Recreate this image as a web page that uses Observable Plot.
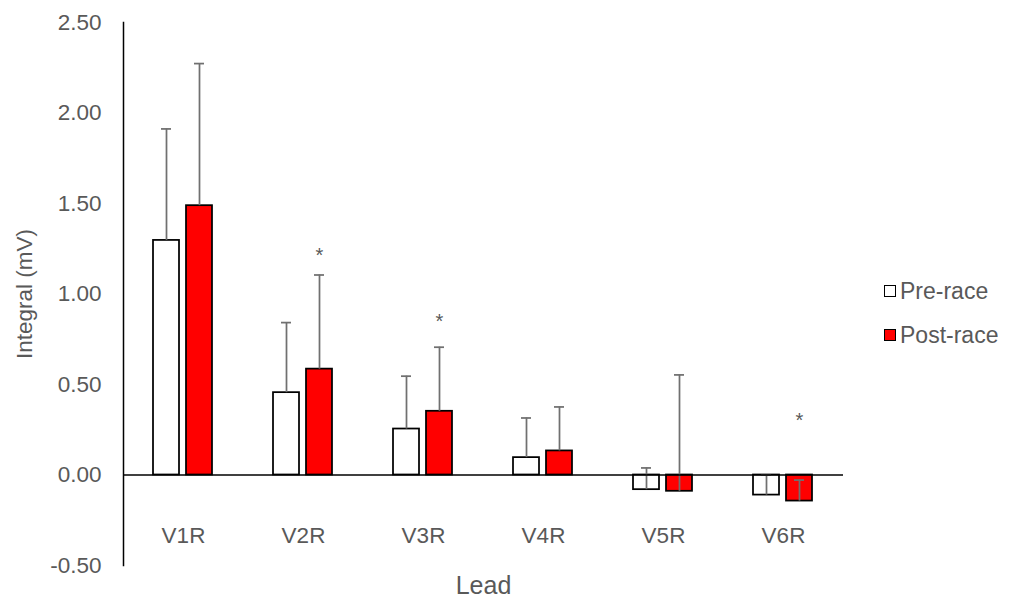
<!DOCTYPE html>
<html>
<head>
<meta charset="utf-8">
<script src="https://cdn.jsdelivr.net/npm/d3@7"></script>
<script src="https://cdn.jsdelivr.net/npm/@observablehq/plot@0.6"></script>
<style>
  html, body { margin: 0; padding: 0; background: #fff; }
  #wrap { position: relative; width: 1014px; height: 602px; font-family: "Liberation Sans", Arial, sans-serif; }
  #legend { position: absolute; left: 884px; top: 269px; color: #595959; font-size: 23px; }
  .item { display: flex; align-items: center; height: 44px; }
  .sw { width: 10px; height: 10px; border: 1.5px solid #000; margin-right: 4px; }
</style>
</head>
<body>
<div id="wrap"><div id="legend"></div></div>
<script>
const leads = ["V1R", "V2R", "V3R", "V4R", "V5R", "V6R"];
const seriesNames = ["Pre-race", "Post-race"];
const seriesColors = ["#ffffff", "#ff0000"];
const preMean = [1.296, 0.455, 0.254, 0.096, -0.081, -0.111];
const preErr = [0.616, 0.387, 0.292, 0.219, 0.120, 0.111];
const postMean = [1.488, 0.585, 0.352, 0.133, -0.090, -0.144];
const postErr = [0.785, 0.520, 0.354, 0.243, 0.643, 0.116];
const sigLeads = ["V2R", "V3R", "V6R"];
const sigY = [1.21, 0.85, 0.30];
const yTicks = [-0.5, 0, 0.5, 1, 1.5, 2, 2.5];

const rows = leads.flatMap((lead, i) => [
  {lead, series: seriesNames[0], value: preMean[i], top: preMean[i] + preErr[i]},
  {lead, series: seriesNames[1], value: postMean[i], top: postMean[i] + postErr[i]}
]);
const stars = sigLeads.map((lead, i) => ({lead, series: seriesNames[1], y: sigY[i]}));

const gray = "#595959";
const chart = Plot.plot({
  width: 1014,
  height: 602,
  marginLeft: 123,
  marginRight: 171,
  marginTop: 22,
  marginBottom: 37,
  style: {fontFamily: "'Liberation Sans', Arial, sans-serif", background: "white"},
  fx: {domain: leads, paddingInner: 0, paddingOuter: 0},
  x: {domain: seriesNames, paddingInner: 0.206, paddingOuter: 0.868, axis: null},
  y: {domain: [-0.5, 2.5], axis: null},
  color: {domain: seriesNames, range: seriesColors},
  marks: [
    Plot.barY(rows, {fx: "lead", x: "series", y: "value", fill: "series", stroke: "#000", strokeWidth: 1.75}),
    Plot.ruleX(rows, {fx: "lead", x: "series", y1: "value", y2: "top", stroke: "#707070", strokeWidth: 1.75}),
    Plot.tickY(rows, {fx: "lead", x: "series", y: "top", stroke: "#707070", strokeWidth: 1.75, insetLeft: 8, insetRight: 8}),
    Plot.ruleY([0], {stroke: "#000", strokeWidth: 1.5}),
    Plot.frame({anchor: "left", facetAnchor: "left", stroke: "#000", strokeWidth: 1.5}),
    Plot.text(stars, {fx: "lead", x: "series", y: "y", text: () => "*", fill: gray, fontSize: 20}),
    Plot.axisY({
      ticks: yTicks, tickFormat: d => d.toFixed(2), tickSize: 0, tickPadding: 22,
      fontSize: 22.5, color: gray,
      label: "Integral (mV)", labelAnchor: "center", labelArrow: "none", labelOffset: 107
    }),
    Plot.axisFx({anchor: "bottom", tickSize: 0, tickPadding: -38, fontSize: 22.5, color: gray, label: null}),
    Plot.axisFx({anchor: "bottom", ticks: [], label: "Lead", labelAnchor: "center", labelArrow: "none", labelOffset: 28, fontSize: 25, color: gray})
  ]
});
document.getElementById("wrap").prepend(chart);
chart.style.position = "absolute"; chart.style.left = "0"; chart.style.top = "0";
const legend = document.getElementById("legend");
seriesNames.forEach((name, i) => {
  const item = document.createElement("div");
  item.className = "item";
  const sw = document.createElement("span");
  sw.className = "sw";
  sw.style.background = seriesColors[i];
  const t = document.createElement("span");
  t.textContent = name;
  item.append(sw, t);
  legend.append(item);
});
</script>
</body>
</html>
